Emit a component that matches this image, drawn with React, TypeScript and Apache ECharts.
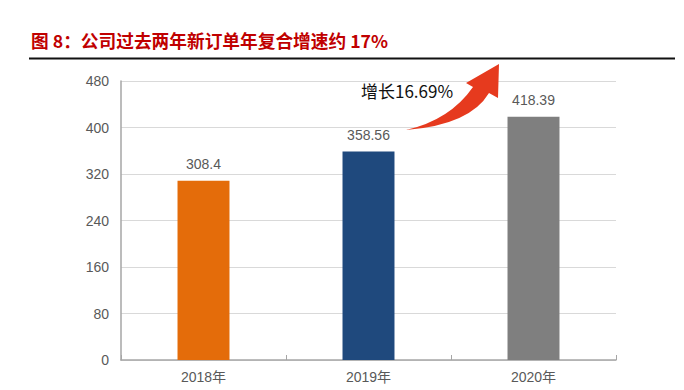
import React, { useEffect, useRef } from "react";
import * as echarts from "echarts";

const categories = ["2018年", "2019年", "2020年"];
const values = [308.4, 358.56, 418.39];
const barColors = ["#E46C0A", "#1F497D", "#7F7F7F"];
const yTicks = { min: 0, max: 480, interval: 80 };
const titleText = "图 8：公司过去两年新订单年复合增速约 17%";
const growthText = "增长16.69%";

const arrowPath =
  "M406 130 Q450 120 473 87 L466 83 L499 64 L498 98 L489 93 Q470 125 406 130 Z";
echarts.graphic.registerShape("growArrow", echarts.graphic.extendPath(arrowPath, {}));

const FONT = "'Liberation Sans', Arial, 'Noto Sans CJK SC', sans-serif";
const CJK = "'Noto Sans CJK SC', 'Liberation Sans', sans-serif";

export default function App() {
  const ref = useRef<HTMLDivElement>(null);
  useEffect(() => {
    if (!ref.current) return;
    const chart = echarts.init(ref.current, null, { renderer: "svg" });
    chart.setOption({
      animation: false,
      backgroundColor: "#ffffff",
      grid: { left: 121, right: 68, top: 81, bottom: 30 },
      xAxis: {
        type: "category",
        data: categories,
        axisLine: { show: true, lineStyle: { color: "#A6A6A6", width: 1.5 } },
        axisTick: { show: true, inside: true, length: 5, lineStyle: { color: "#A6A6A6" } },
        axisLabel: { color: "#595959", fontSize: 14, fontFamily: FONT, margin: 10 },
      },
      yAxis: {
        type: "value",
        min: yTicks.min,
        max: yTicks.max,
        interval: yTicks.interval,
        axisLine: { show: true, lineStyle: { color: "#A6A6A6", width: 1.5 } },
        axisTick: { show: false },
        splitLine: { show: true, lineStyle: { color: "#D9D9D9", width: 1 } },
        axisLabel: { color: "#595959", fontSize: 14, fontFamily: FONT, margin: 12 },
      },
      series: [
        {
          type: "bar",
          barWidth: "31.5%",
          data: values.map((v, i) => ({ value: v, itemStyle: { color: barColors[i] } })),
          label: {
            show: true,
            position: "top",
            distance: 10,
            color: "#595959",
            fontSize: 14,
            fontFamily: FONT,
          },
        },
      ],
      graphic: [
        {
          type: "text",
          left: 31,
          top: 31,
          style: {
            text: titleText,
            fill: "#C00000",
            font: `bold 17.7px ${CJK}`,
          },
        },
        {
          type: "line",
          shape: { x1: 29, y1: 58.5, x2: 675, y2: 58.5 },
          style: { stroke: "#111111", lineWidth: 2 },
        },
        {
          type: "growArrow",
          x: 0,
          y: 0,
          style: { fill: "#E63A1E" },
          z: 10,
        },
        {
          type: "text",
          left: 361,
          top: 82,
          style: {
            text: growthText,
            fill: "#111111",
            font: `17px ${CJK}`,
          },
          z: 11,
        },
      ],
    });
    return () => chart.dispose();
  }, []);
  return (
    <div
      ref={ref}
      style={{ position: "fixed", left: 0, top: 0, width: 684, height: 390 }}
    />
  );
}
